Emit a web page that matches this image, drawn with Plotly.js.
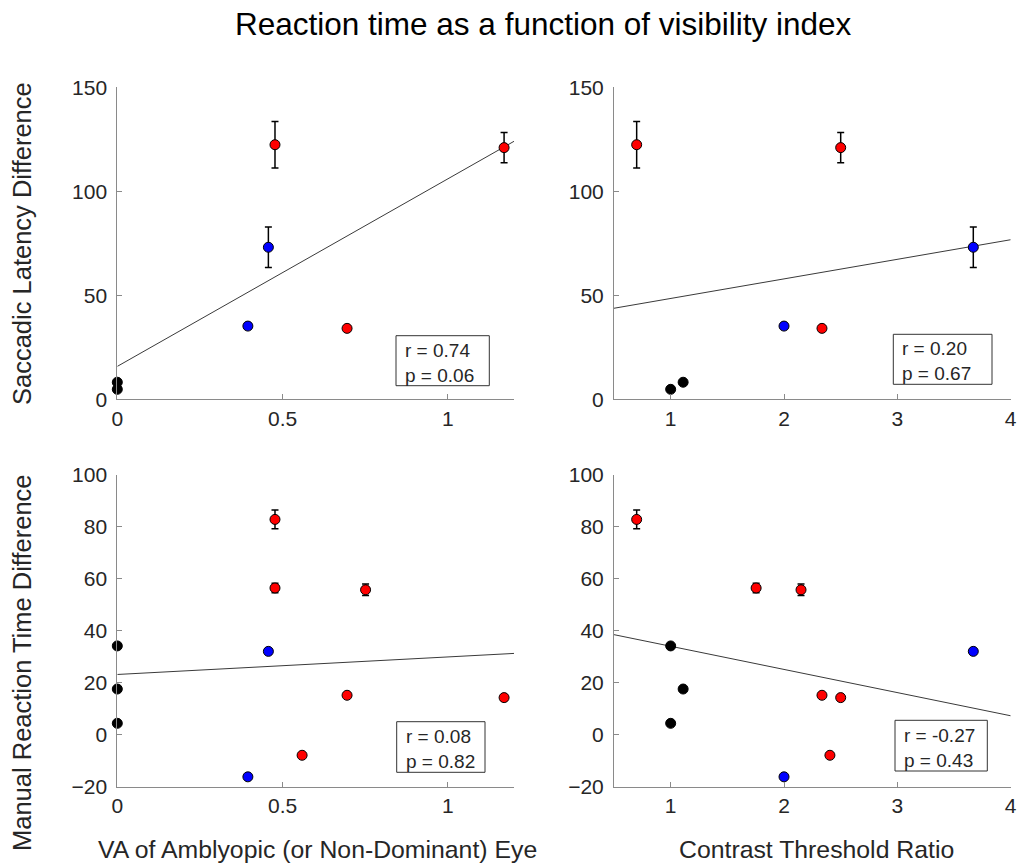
<!DOCTYPE html>
<html>
<head>
<meta charset="utf-8">
<script src="https://cdn.plot.ly/plotly-3.0.1.min.js"></script>
<style>html,body{margin:0;padding:0;background:#fff;}#chart{width:1018px;height:863px;}</style>
</head>
<body>
<div id="chart"></div>
<script>
// ---- data (one entry per subject) ----
const group        = ['black','black','black','blue','blue','red','red','red','red','red','red'];
const vaAmblyopic  = [0, 0, 0, 0.457, 0.395, 0.477, 1.17, 0.695, 0.477, 0.751, 0.559];
const contrastRatio= [1.0, 1.11, 1.0, 3.67, 2.0, 0.70, 2.5, 2.335, 1.754, 2.15, 2.405];
const saccadicDiff = [4.8, 8.2, null, 73.1, 35.2, 122.4, 121.0, 34.1, null, null, null];
const saccadicErr  = [0.5, 0.5, null, 9.7, 1.5, 11.2, 7.3, 0.8, null, null, null];
const manualDiff   = [4.4, 17.6, 34.2, 32.1, -16.2, 82.9, 14.3, 15.2, 56.5, 55.8, -7.9];
const manualErr    = [0.5, 0.5, 0.5, 0.6, 0.6, 3.6, 0.8, 0.8, 1.8, 2.2, 0.8];
const statsText    = ['r = 0.74<br>p = 0.06', 'r = 0.20<br>p = 0.67', 'r = 0.08<br>p = 0.82', 'r = -0.27<br>p = 0.43'];
const chartTitle   = 'Reaction time as a function of visibility index';
const xTitles      = ['VA of Amblyopic (or Non-Dominant) Eye', 'Contrast Threshold Ratio'];
const yTitles      = ['Saccadic Latency Difference', 'Manual Reaction Time Difference'];

// ---- styling ----
const colorMap = {black:'#000000', blue:'#0000ff', red:'#ff0000'};
const W = 1018, H = 863;
const px = v => v / W, py = v => 1 - v / H;
const FONT = 'Liberation Sans, Arial, Helvetica, sans-serif';
const axisGray = '#8a8a8a';
const tickColor = '#262626';

const panels = [
  {xs: vaAmblyopic,   ys: saccadicDiff, es: saccadicErr, xa:'x',  ya:'y',  xr:[0,1.2], yr:[0,150]},
  {xs: contrastRatio, ys: saccadicDiff, es: saccadicErr, xa:'x2', ya:'y2', xr:[0.5,4], yr:[0,150]},
  {xs: vaAmblyopic,   ys: manualDiff,   es: manualErr,   xa:'x3', ya:'y3', xr:[0,1.2], yr:[-20,100]},
  {xs: contrastRatio, ys: manualDiff,   es: manualErr,   xa:'x4', ya:'y4', xr:[0.5,4], yr:[-20,100]}
];

function linfit(xs, ys) {
  const pts = xs.map((x,i)=>[x, ys[i]]).filter(p => p[1] !== null);
  const n = pts.length;
  const mx = pts.reduce((s,p)=>s+p[0],0)/n, my = pts.reduce((s,p)=>s+p[1],0)/n;
  let sxy=0, sxx=0;
  pts.forEach(p => { sxy += (p[0]-mx)*(p[1]-my); sxx += (p[0]-mx)*(p[0]-mx); });
  const b = sxy/sxx; return {a: my - b*mx, b: b};
}

const traces = [];
panels.forEach(p => {
  const f = linfit(p.xs, p.ys);
  traces.push({type:'scatter', mode:'lines', x:p.xr, y:p.xr.map(x=>f.a+f.b*x),
    xaxis:p.xa, yaxis:p.ya, line:{color:'#3a3a3a', width:1}, hoverinfo:'skip', showlegend:false});
  ['black','blue','red'].forEach(g => {
    const idx = group.map((gg,i)=>gg===g && p.ys[i]!==null ? i : -1).filter(i=>i>=0);
    traces.push({type:'scatter', mode:'markers', cliponaxis:false,
      x: idx.map(i=>p.xs[i]), y: idx.map(i=>p.ys[i]),
      error_y:{type:'data', array: idx.map(i=>p.es[i]), visible:true, color:'#000', thickness:1.5, width:3.5},
      xaxis:p.xa, yaxis:p.ya, showlegend:false,
      marker:{color:colorMap[g], size:10, line:{color:'#000', width:1}}});
  });
});

function ax(domain, range, dtick, isY) {
  const a = {domain:domain, range:range, dtick:dtick, tick0:0, showgrid:false, zeroline:false,
    showline:true, linecolor:axisGray, linewidth:1, mirror:false, ticks:'inside', ticklen:5,
    tickcolor:axisGray, tickwidth:1, tickfont:{family:FONT, size:21, color:tickColor}, fixedrange:true};
  if (isY) a.ticklabelstandoff = 5;
  return a;
}
const xL = [px(117.3), px(514)], xR = [px(614), px(1010.7)];
const yT = [py(399.3), py(87.3)], yB = [py(786.7), py(475)];

const layout = {
  width:W, height:H, margin:{l:0,r:0,t:0,b:0}, paper_bgcolor:'#fff', plot_bgcolor:'rgba(0,0,0,0)',
  showlegend:false, font:{family:FONT},
  xaxis:  Object.assign(ax(xL,[0,1.2],0.5), {anchor:'y'}),
  yaxis:  Object.assign(ax(yT,[0,150],50,true),  {anchor:'x'}),
  xaxis2: Object.assign(ax(xR,[0.5,4],1),   {anchor:'y2'}),
  yaxis2: Object.assign(ax(yT,[0,150],50,true),  {anchor:'x2'}),
  xaxis3: Object.assign(ax(xL,[0,1.2],0.5), {anchor:'y3'}),
  yaxis3: Object.assign(ax(yB,[-20,100],20,true),{anchor:'x3'}),
  xaxis4: Object.assign(ax(xR,[0.5,4],1),   {anchor:'y4'}),
  yaxis4: Object.assign(ax(yB,[-20,100],20,true),{anchor:'x4'}),
  annotations: [], shapes: []
};

layout.annotations.push({xref:'paper', yref:'paper', x:px(543), y:py(24), xanchor:'center', yanchor:'middle',
  text:chartTitle, showarrow:false, font:{family:FONT, size:31.5, color:'#000'}});
layout.annotations.push({xref:'paper', yref:'paper', x:px(317.5), y:py(849), xanchor:'center', yanchor:'middle',
  text:xTitles[0], showarrow:false, font:{family:FONT, size:24.8, color:tickColor}});
layout.annotations.push({xref:'paper', yref:'paper', x:px(816), y:py(849), xanchor:'center', yanchor:'middle',
  text:xTitles[1], showarrow:false, font:{family:FONT, size:24.8, color:tickColor}});
layout.annotations.push({xref:'paper', yref:'paper', x:px(22), y:py(244), xanchor:'center', yanchor:'middle',
  text:yTitles[0], textangle:-90, showarrow:false, font:{family:FONT, size:25.5, color:tickColor}});
layout.annotations.push({xref:'paper', yref:'paper', x:px(22), y:py(663), xanchor:'center', yanchor:'middle',
  text:yTitles[1], textangle:-90, showarrow:false, font:{family:FONT, size:25.5, color:tickColor}});

const boxes = [[396,489.3,335.7,385.7],[893.3,992,334.3,384.3],[396.7,485,721.7,772.3],[895,987.3,720.3,771]];
boxes.forEach((b,i) => {
  layout.shapes.push({type:'rect', xref:'paper', yref:'paper', x0:px(b[0]), x1:px(b[1]), y0:py(b[3]), y1:py(b[2]),
    line:{color:'#333', width:1}, fillcolor:'#fff'});
  layout.annotations.push({xref:'paper', yref:'paper', x:px(b[0]+7), y:py((b[2]+b[3])/2+2), xanchor:'left', yanchor:'middle',
    align:'left', text:statsText[i], showarrow:false, font:{family:FONT, size:19, color:'#262626'}});
});

Plotly.newPlot('chart', traces, layout, {displayModeBar:false, staticPlot:true});
</script>
</body>
</html>
